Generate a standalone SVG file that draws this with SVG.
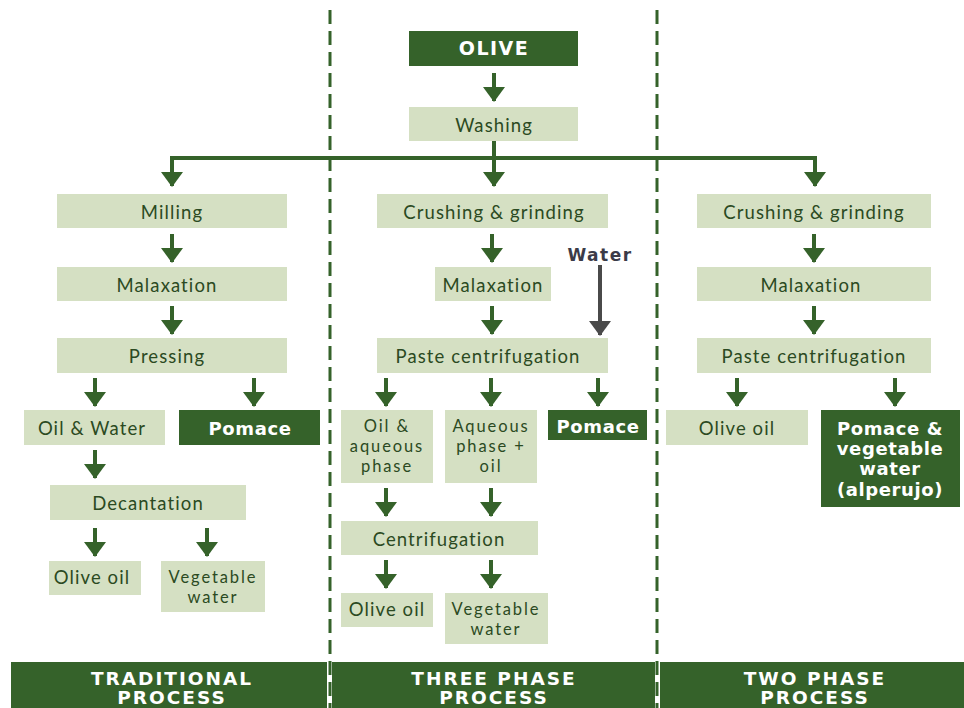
<svg xmlns="http://www.w3.org/2000/svg" width="964" height="708" viewBox="0 0 964 708">
<defs>
<style>
.l{fill:#d5e0c3}
.d{fill:#35622a}
.t{font-family:Lato,"Liberation Sans",sans-serif;font-size:18.5px;letter-spacing:1.1px;fill:#2b4a22;text-anchor:middle;dominant-baseline:central}
.m{font-size:16.5px;letter-spacing:1.9px}
.w{font-family:"DejaVu Sans",sans-serif;font-weight:bold;font-size:18px;letter-spacing:0.6px;fill:#ffffff;text-anchor:middle;dominant-baseline:central}
.h{font-family:"DejaVu Sans",sans-serif;font-weight:bold;font-size:18.5px;letter-spacing:2px;fill:#ffffff;text-anchor:middle;dominant-baseline:central}
.a{stroke:#35622a;stroke-width:4;fill:none;marker-end:url(#ah)}
.g{stroke:#4a4a4a;stroke-width:4;fill:none;marker-end:url(#ag)}
.dash{stroke:#35622a;stroke-width:3;stroke-dasharray:14 7;fill:none}
</style>
<marker id="ah" markerUnits="userSpaceOnUse" markerWidth="15" markerHeight="22" viewBox="0 0 15 22" refX="14" refY="11" orient="auto">
<path d="M0,0 L15,11 L0,22 Z" fill="#35622a"/>
</marker>
<marker id="ag" markerUnits="userSpaceOnUse" markerWidth="15" markerHeight="22" viewBox="0 0 15 22" refX="14" refY="11" orient="auto">
<path d="M0,0 L15,11 L0,22 Z" fill="#4a4a4a"/>
</marker>
</defs>
<rect width="964" height="708" fill="#ffffff"/>

<g id="dividers">
<line class="dash" x1="330" y1="10" x2="330" y2="708"/>
<line class="dash" x1="657" y1="10" x2="657" y2="708"/>
</g>

<g id="connectors">
<path d="M494,141 V158 M170,158 H817" style="stroke:#35622a;stroke-width:4;fill:none"/>
<path class="a" d="M494,73 V101"/>
<path class="a" d="M172,158 V186"/>
<path class="a" d="M494,158 V186"/>
<path class="a" d="M815,158 V186"/>
<path class="a" d="M172,234 V262"/>
<path class="a" d="M172,306 V334"/>
<path class="a" d="M95,378 V406"/>
<path class="a" d="M254,378 V406"/>
<path class="a" d="M95,450 V478"/>
<path class="a" d="M95,528 V556"/>
<path class="a" d="M207,528 V556"/>
<path class="a" d="M492,234 V262"/>
<path class="a" d="M492,306 V334"/>
<path class="g" d="M600,265 V335"/>
<path class="a" d="M386,378 V406"/>
<path class="a" d="M491,378 V406"/>
<path class="a" d="M598,378 V406"/>
<path class="a" d="M386,488 V516"/>
<path class="a" d="M491,488 V516"/>
<path class="a" d="M386,560 V588"/>
<path class="a" d="M491,560 V588"/>
<path class="a" d="M814,234 V262"/>
<path class="a" d="M814,306 V334"/>
<path class="a" d="M737,378 V406"/>
<path class="a" d="M895,378 V406"/>
</g>

<g id="olive"><rect class="d" x="409" y="31" width="169" height="35"/><text class="w" x="494" y="48" style="font-size:19px;letter-spacing:1.5px">OLIVE</text></g>
<g id="washing"><rect class="l" x="409" y="107" width="169" height="34"/><text class="t" x="494" y="125">Washing</text></g>

<g id="t-milling"><rect class="l" x="57" y="194" width="230" height="34"/><text class="t" x="172" y="212">Milling</text></g>
<g id="t-malaxation"><rect class="l" x="57" y="267" width="230" height="34"/><text class="t" x="167" y="285">Malaxation</text></g>
<g id="t-pressing"><rect class="l" x="57" y="338" width="230" height="35"/><text class="t" x="167" y="356">Pressing</text></g>
<g id="t-oilwater"><rect class="l" x="24" y="410" width="141" height="35"/><text class="t" x="92" y="428">Oil &amp; Water</text></g>
<g id="t-pomace"><rect class="d" x="179" y="410" width="141" height="35"/><text class="w" x="250" y="428">Pomace</text></g>
<g id="t-decantation"><rect class="l" x="50" y="485" width="196" height="35"/><text class="t" x="148" y="503">Decantation</text></g>
<g id="t-oliveoil"><rect class="l" x="49" y="561" width="92" height="34"/><text class="t" x="92" y="577">Olive oil</text></g>
<g id="t-vegwater"><rect class="l" x="161" y="561" width="104" height="51"/><text class="t m" x="213" y="577"><tspan x="213" y="577">Vegetable</tspan><tspan x="213" y="597">water</tspan></text></g>

<g id="p3-crushing"><rect class="l" x="377" y="194" width="231" height="34"/><text class="t" x="494" y="212">Crushing &amp; grinding</text></g>
<g id="p3-malaxation"><rect class="l" x="435" y="267" width="116" height="34"/><text class="t" x="493" y="285">Malaxation</text></g>
<g id="p3-water"><text x="600" y="255" style="font-family:'DejaVu Sans',sans-serif;font-weight:bold;font-size:17px;letter-spacing:1.5px;fill:#3b3b48;text-anchor:middle;dominant-baseline:central">Water</text></g>
<g id="p3-paste"><rect class="l" x="377" y="338" width="231" height="35"/><text class="t" x="488" y="356">Paste centrifugation</text></g>
<g id="p3-oilaq"><rect class="l" x="341" y="410" width="92" height="73"/><text class="t m" x="387" y="426"><tspan x="387" y="426">Oil &amp;</tspan><tspan x="387" y="446">aqueous</tspan><tspan x="387" y="466">phase</tspan></text></g>
<g id="p3-aqoil"><rect class="l" x="445" y="410" width="92" height="73"/><text class="t m" x="491" y="426"><tspan x="491" y="426">Aqueous</tspan><tspan x="491" y="446">phase +</tspan><tspan x="491" y="466">oil</tspan></text></g>
<g id="p3-pomace"><rect class="d" x="548" y="410" width="99" height="30"/><text class="w" x="598" y="426">Pomace</text></g>
<g id="p3-centrif"><rect class="l" x="341" y="521" width="197" height="34"/><text class="t" x="439" y="539">Centrifugation</text></g>
<g id="p3-oliveoil"><rect class="l" x="341" y="593" width="92" height="34"/><text class="t" x="387" y="609">Olive oil</text></g>
<g id="p3-vegwater"><rect class="l" x="445" y="593" width="103" height="51"/><text class="t m" x="496" y="609"><tspan x="496" y="609">Vegetable</tspan><tspan x="496" y="629">water</tspan></text></g>

<g id="p2-crushing"><rect class="l" x="697" y="194" width="234" height="34"/><text class="t" x="814" y="212">Crushing &amp; grinding</text></g>
<g id="p2-malaxation"><rect class="l" x="697" y="267" width="234" height="34"/><text class="t" x="811" y="285">Malaxation</text></g>
<g id="p2-paste"><rect class="l" x="697" y="338" width="234" height="35"/><text class="t" x="814" y="356">Paste centrifugation</text></g>
<g id="p2-oliveoil"><rect class="l" x="666" y="410" width="142" height="35"/><text class="t" x="737" y="428">Olive oil</text></g>
<g id="p2-pomace"><rect class="d" x="821" y="410" width="139" height="97"/><text class="w" x="890" y="428"><tspan x="890" y="428">Pomace &amp;</tspan><tspan x="890" y="448">vegetable</tspan><tspan x="890" y="468">water</tspan><tspan x="890" y="489">(alperujo)</tspan></text></g>

<g id="footer-traditional"><rect class="d" x="11" y="662" width="316" height="46"/><text class="h" x="172" y="678"><tspan x="172" y="678">TRADITIONAL</tspan><tspan x="172" y="697">PROCESS</tspan></text></g>
<g id="footer-three"><rect class="d" x="332" y="662" width="323" height="46"/><text class="h" x="494" y="678"><tspan x="494" y="678">THREE PHASE</tspan><tspan x="494" y="697">PROCESS</tspan></text></g>
<g id="footer-two"><rect class="d" x="660" y="662" width="304" height="46"/><text class="h" x="815" y="678"><tspan x="815" y="678">TWO PHASE</tspan><tspan x="815" y="697">PROCESS</tspan></text></g>
</svg>
